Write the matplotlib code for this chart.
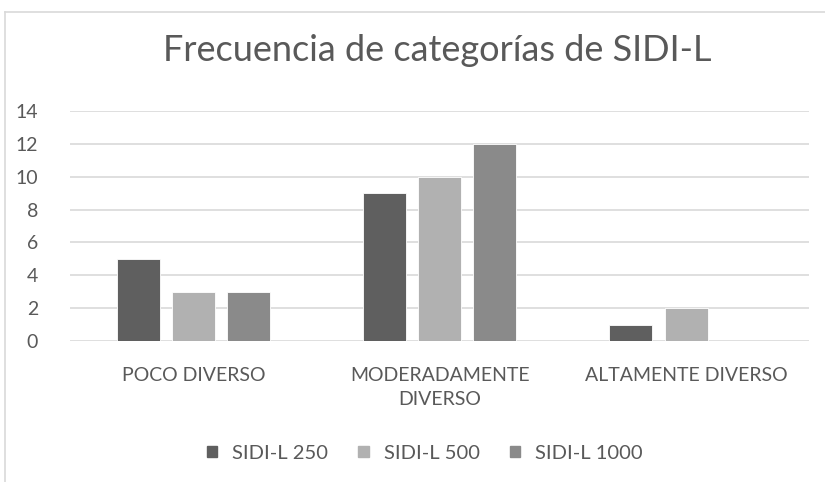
import numpy as np
import matplotlib.pyplot as plt
from matplotlib.lines import Line2D

plt.rcParams['font.family'] = ['Lato', 'DejaVu Sans']

categorias = ['POCO DIVERSO', 'MODERADAMENTE\nDIVERSO', 'ALTAMENTE DIVERSO']
series = ['SIDI-L 250', 'SIDI-L 500', 'SIDI-L 1000']
sidi_250 = [5, 9, 1]
sidi_500 = [3, 10, 2]
sidi_1000 = [3, 12, 0]
colores = ['#5f5f5f', '#b1b1b1', '#8a8a8a']

TXT = '#595959'
GRID = '#d9d9d9'

fig = plt.figure(figsize=(8.25, 4.82), dpi=100)
ax = fig.add_axes([0.085, 0.2925, 0.896, 0.4772])

x = np.arange(len(categorias))
ancho = 0.175
paso = 0.224
for i, (vals, nombre) in enumerate(zip([sidi_250, sidi_500, sidi_1000], series)):
    ax.bar(x + (i - 1) * paso, vals, ancho, color=colores[i], label=nombre,
           edgecolor='white', linewidth=0.6, zorder=3)

ax.set_xlim(-0.5, 2.5)
ax.set_ylim(0, 14)
ax.set_yticks(range(0, 15, 2))
ax.set_xticks(x)
ax.set_xticklabels(categorias, fontsize=14, color=TXT, linespacing=1.45)
ax.tick_params(axis='y', labelsize=14, labelcolor=TXT, length=0, pad=23)
ax.tick_params(axis='x', length=0, pad=19)
ax.grid(axis='y', color=GRID, linewidth=1.2, zorder=0)
for s in ax.spines.values():
    s.set_visible(False)

fig.text(0.53, 0.896, 'Frecuencia de categorías de SIDI-L', ha='center', va='center',
         fontsize=26, color=TXT)

handles = [plt.Rectangle((0, 0), 1, 1, color=c) for c in colores]
fig.legend(handles, series, loc='center', bbox_to_anchor=(0.515, 0.06), ncol=3,
           frameon=False, fontsize=14.5, labelcolor=TXT, handlelength=0.5,
           handleheight=0.5, columnspacing=1.5, handletextpad=0.75)

# borde del area del grafico
fig.add_artist(Line2D([0.006, 0.006], [0, 0.975], color=GRID, linewidth=1.2))
fig.add_artist(Line2D([0.006, 1], [0.975, 0.975], color=GRID, linewidth=1.2))

plt.savefig('out.png', dpi=100)
